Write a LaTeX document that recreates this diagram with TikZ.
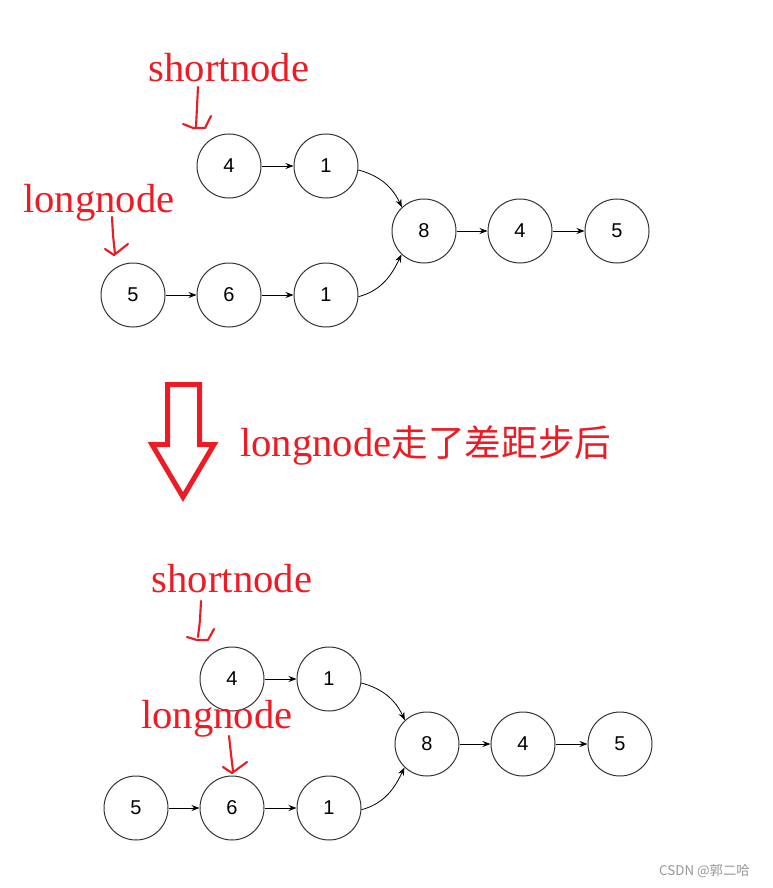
\documentclass[tikz,border=0pt]{standalone}
\usepackage{fontspec}
\setmainfont{Liberation Serif}
\newfontfamily\numfont{Liberation Sans}
\newfontfamily\cjkfont{Noto Sans CJK SC}
\usetikzlibrary{arrows.meta}
\definecolor{myred}{RGB}{237,28,36}
\definecolor{circ}{RGB}{51,51,51}
\definecolor{wm}{RGB}{150,150,150}
\begin{document}
\begin{tikzpicture}[x=0.75pt,y=-0.75pt,
 nd/.style={circle,draw=circ,line width=0.75pt,minimum size=48pt,inner sep=0pt,font=\numfont\fontsize{15}{16}\selectfont},
 lnk/.style={-{Stealth[length=6pt,width=4.5pt]},line width=0.6pt,draw=black},
 lab/.style={text=myred,font=\fontsize{30.5}{32}\selectfont,inner sep=0pt,anchor=base},
 hand/.style={draw=myred,line width=1.6pt,line join=round,line cap=round},
]
\useasboundingbox (0,0) rectangle (772,888);
% ---------- top diagram ----------
\node[nd] (a4) at (229,166) {4};
\node[nd] (a1) at (326,166) {1};
\node[nd] (a8) at (424,231) {8};
\node[nd] (a4b) at (520,231) {4};
\node[nd] (a5) at (617,231) {5};
\node[nd] (b5) at (133,295) {5};
\node[nd] (b6) at (229,295) {6};
\node[nd] (b1) at (326,295) {1};
\draw[lnk] (a4) -- (a1);
\draw[lnk] (a8) -- (a4b);
\draw[lnk] (a4b) -- (a5);
\draw[lnk] (b5) -- (b6);
\draw[lnk] (b6) -- (b1);
\draw[lnk] (a1.-7) to[out=-15,in=115] (a8.133);
\draw[lnk] (b1.-3) to[out=15,in=-115] (a8.-134);
\node[lab] (s1) at (229,82) {shortnode};
\node[lab] (l1) at (99,212) {longnode};
\draw[hand] (198,87) -- (197,107) -- (196,127);
\draw[hand] (183,124) -- (193,128) -- (205,128) -- (211,116);
\draw[hand] (112,217) -- (113,235) -- (115,254);
\draw[hand] (105,249) -- (114,255) -- (128,244);
% ---------- big arrow ----------
\draw[draw=myred,line width=3.75pt,line join=miter] (167.5,384.5) -- (199.5,384.5) -- (199.5,444.5) -- (214,444.5) -- (183,497) -- (152,444.5) -- (167.5,444.5) -- cycle;
\node[lab,anchor=base west] (mid) at (240,456) {longnode{\cjkfont\fontsize{27.5}{28}\selectfont 走了差距步后}};
% ---------- bottom diagram ----------
\node[nd] (c4) at (232,679) {4};
\node[nd] (c1) at (329,679) {1};
\node[nd] (c8) at (427,744) {8};
\node[nd] (c4b) at (523,744) {4};
\node[nd] (c5) at (620,744) {5};
\node[nd] (d5) at (136,808) {5};
\node[nd] (d6) at (232,808) {6};
\node[nd] (d1) at (329,808) {1};
\draw[lnk] (c4) -- (c1);
\draw[lnk] (c8) -- (c4b);
\draw[lnk] (c4b) -- (c5);
\draw[lnk] (d5) -- (d6);
\draw[lnk] (d6) -- (d1);
\draw[lnk] (c1.-7) to[out=-15,in=115] (c8.133);
\draw[lnk] (d1.-3) to[out=15,in=-115] (c8.-134);
\node[lab] (s2) at (232,592) {shortnode};
\node[lab] (l2) at (217,728) {longnode};
\draw[hand] (201,601) -- (200,620) -- (198,637);
\draw[hand] (187,637) -- (197,640) -- (208,640) -- (214,629);
\draw[hand] (229,736) -- (231,754) -- (233,771);
\draw[hand] (223,767) -- (232,773) -- (247,762);
% ---------- watermark ----------
\node[text=wm,font=\cjkfont\fontsize{10}{11}\selectfont,anchor=east,inner sep=0pt] (wmk) at (750,871) {CSDN @郭二哈};
\end{tikzpicture}
\end{document}
